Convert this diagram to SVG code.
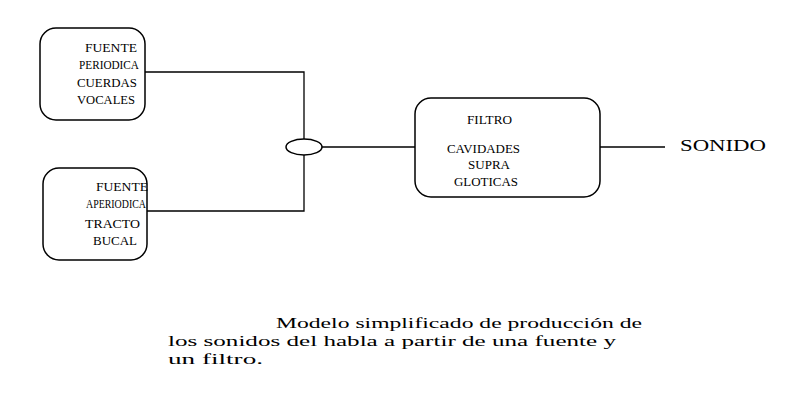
<svg xmlns="http://www.w3.org/2000/svg" width="800" height="400" viewBox="0 0 800 400">
<style>
.b{fill:none;stroke:#000;stroke-width:1.5}
.t{font-family:"Liberation Serif",serif;font-size:13px;fill:#000}
.c{font-family:"Liberation Serif",serif;font-size:15px;fill:#000}
</style>
<rect width="800" height="400" fill="#fff"/>
<g id="connectors" stroke="#000" stroke-width="1.3" fill="none">
<polyline points="145,72 304,72 304,139"/>
<polyline points="147,211 304,211 304,155"/>
<line x1="322" y1="147" x2="415" y2="147"/>
<line x1="600" y1="147" x2="665" y2="147"/>
</g>
<g id="junction"><ellipse cx="304" cy="147" rx="18" ry="8" class="b"/></g>
<g id="fuente-periodica">
<rect x="40" y="28" width="105" height="92" rx="16" class="b"/>
<text class="t" x="85" y="52" textLength="52" lengthAdjust="spacingAndGlyphs">FUENTE</text>
<text class="t" x="79" y="69" textLength="60" lengthAdjust="spacingAndGlyphs">PERIODICA</text>
<text class="t" x="77" y="87" textLength="60" lengthAdjust="spacingAndGlyphs">CUERDAS</text>
<text class="t" x="77" y="104" textLength="58" lengthAdjust="spacingAndGlyphs">VOCALES</text>
</g>
<g id="fuente-aperiodica">
<rect x="43" y="168" width="104" height="92" rx="16" class="b"/>
<text class="t" x="96" y="191" textLength="52" lengthAdjust="spacingAndGlyphs">FUENTE</text>
<text class="t" x="86" y="208" textLength="60" lengthAdjust="spacingAndGlyphs">APERIODICA</text>
<text class="t" x="85" y="228" textLength="55" lengthAdjust="spacingAndGlyphs">TRACTO</text>
<text class="t" x="93" y="245" textLength="44" lengthAdjust="spacingAndGlyphs">BUCAL</text>
</g>
<g id="filtro">
<rect x="415" y="98" width="185" height="99" rx="16" class="b"/>
<text class="t" x="467" y="124" textLength="45" lengthAdjust="spacingAndGlyphs">FILTRO</text>
<text class="t" x="447" y="153" textLength="73" lengthAdjust="spacingAndGlyphs">CAVIDADES</text>
<text class="t" x="468" y="169" textLength="42" lengthAdjust="spacingAndGlyphs">SUPRA</text>
<text class="t" x="454" y="186" textLength="64" lengthAdjust="spacingAndGlyphs">GLOTICAS</text>
</g>
<g id="sonido"><text class="c" x="680" y="151" style="font-size:16px" textLength="86" lengthAdjust="spacingAndGlyphs">SONIDO</text></g>
<g id="caption">
<text class="c" x="276" y="328" textLength="366" lengthAdjust="spacingAndGlyphs">Modelo simplificado de producción de</text>
<text class="c" x="168" y="346" textLength="448" lengthAdjust="spacingAndGlyphs">los sonidos del habla a partir de una fuente y</text>
<text class="c" x="168" y="364" textLength="95" lengthAdjust="spacingAndGlyphs">un filtro.</text>
</g>
</svg>
